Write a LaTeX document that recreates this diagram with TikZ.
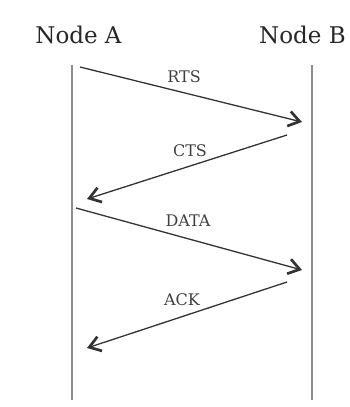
\documentclass[tikz,border=0pt]{standalone}
\usepackage{fontspec}
\setmainfont{DejaVu Serif}
\usetikzlibrary{arrows.meta}
\tikzset{
  lifeline/.style={draw=black!45, line width=2.4pt},
  message/.style={draw=black!80, line width=1.3pt,
    -{Straight Barb[length=11pt,width=15pt,line width=2.7pt]}},
  header/.style={font=\fontsize{23}{26}\selectfont, text=black!85, inner sep=0pt},
  msglabel/.style={font=\fontsize{16}{18}\selectfont, text=black!75, inner sep=0pt}
}
\begin{document}
\begin{tikzpicture}[x=1pt,y=-1pt]
  \useasboundingbox (0,0) rectangle (350,407);
  % participants
  \node[header] (na) at (78.5,34.5) {Node A};
  \node[header] (nb) at (302.5,34.5) {Node B};
  % lifelines
  \coordinate (aTop) at (72,65);  \coordinate (aBot) at (72,400);
  \coordinate (bTop) at (312,65); \coordinate (bBot) at (312,400);
  \draw[lifeline] (aTop) -- (aBot);
  \draw[lifeline] (bTop) -- (bBot);
  % message end points
  \coordinate (rtsS) at (80,67);   \coordinate (rtsE) at (302,122);
  \coordinate (ctsS) at (287,135); \coordinate (ctsE) at (87,199);
  \coordinate (datS) at (76,208);  \coordinate (datE) at (302,270);
  \coordinate (ackS) at (287,282); \coordinate (ackE) at (87,348);
  % messages
  \draw[message] (rtsS) -- (rtsE);
  \draw[message] (ctsS) -- (ctsE);
  \draw[message] (datS) -- (datE);
  \draw[message] (ackS) -- (ackE);
  % labels
  \node[msglabel] (lrts) at (184,77)  {RTS};
  \node[msglabel] (lcts) at (190,151) {CTS};
  \node[msglabel] (ldat) at (188,221) {DATA};
  \node[msglabel] (lack) at (182,300) {ACK};
\end{tikzpicture}
\end{document}
